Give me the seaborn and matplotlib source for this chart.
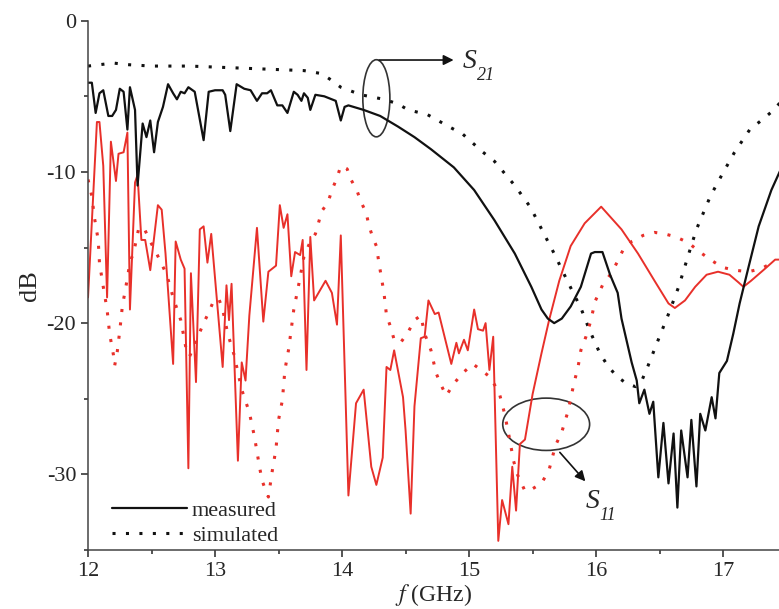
# S21 / S11 measured vs simulated

import seaborn as sns
import matplotlib.pyplot as plt
from matplotlib.patches import Ellipse
from matplotlib.ticker import MultipleLocator

# measured S21 (black solid)
s21_meas_f = [12.00, 12.03, 12.06, 12.09, 12.12, 12.16, 12.19, 12.22, 12.25, 12.28,
              12.31, 12.33, 12.37, 12.39, 12.43, 12.46, 12.49, 12.52, 12.55, 12.59,
              12.63, 12.67, 12.70, 12.73, 12.76, 12.79, 12.84, 12.91, 12.95, 13.00,
              13.06, 13.08, 13.12, 13.17, 13.23, 13.28, 13.33, 13.37, 13.41, 13.44,
              13.49, 13.53, 13.57, 13.62, 13.65, 13.68, 13.70, 13.73, 13.75, 13.79,
              13.86, 13.95, 13.99, 14.02, 14.05, 14.17, 14.30, 14.44, 14.57, 14.70,
              14.88, 15.04, 15.20, 15.36, 15.49, 15.57, 15.62, 15.67, 15.73, 15.80,
              15.88, 15.96, 15.99, 16.05, 16.11, 16.17, 16.20, 16.28, 16.32, 16.34,
              16.38, 16.42, 16.45, 16.49, 16.53, 16.57, 16.61, 16.64, 16.67, 16.72,
              16.75, 16.79, 16.82, 16.86, 16.91, 16.94, 16.97, 17.03, 17.08, 17.13,
              17.20, 17.28, 17.38, 17.45]
s21_meas = [-4.1, -4.1, -6.1, -4.8, -4.6, -6.3, -6.3, -5.9, -4.5, -4.7,
            -7.2, -4.4, -5.9, -10.9, -6.8, -7.7, -6.6, -8.7, -6.7, -5.7,
            -4.2, -4.8, -5.2, -4.7, -4.8, -4.4, -4.7, -7.9, -4.7, -4.6,
            -4.6, -4.9, -7.3, -4.2, -4.5, -4.6, -5.3, -4.8, -4.8, -4.6,
            -5.6, -5.6, -6.1, -4.7, -4.9, -5.3, -4.8, -5.1, -5.9, -4.9,
            -5.0, -5.3, -6.6, -5.7, -5.6, -5.9, -6.3, -7.0, -7.7, -8.5,
            -9.7, -11.2, -13.2, -15.4, -17.6, -19.1, -19.7, -20.0, -19.7, -18.9,
            -17.6, -15.4, -15.3, -15.3, -16.8, -18.0, -19.7, -22.6, -23.8, -25.3,
            -24.4, -26.0, -25.2, -30.2, -26.6, -30.6, -27.3, -32.2, -27.1, -30.2,
            -26.4, -30.8, -26.0, -27.1, -24.9, -26.3, -23.3, -22.5, -20.7, -18.7,
            -16.3, -13.6, -11.2, -9.9]

# simulated S21 (black dotted)
s21_sim_f = [12.00, 12.10, 12.20, 12.30, 12.50, 12.80, 13.10, 13.40, 13.70, 13.84,
             13.91, 13.99, 14.15, 14.33, 14.44, 14.52, 14.67, 14.84, 14.95, 15.11,
             15.20, 15.28, 15.36, 15.42, 15.48, 15.53, 15.59, 15.67, 15.75, 15.82,
             15.88, 15.95, 16.03, 16.09, 16.16, 16.24, 16.31, 16.36, 16.41, 16.48,
             16.57, 16.65, 16.73, 16.79, 16.90, 16.99, 17.09, 17.21, 17.30, 17.40,
             17.45]
s21_sim = [-3.0, -2.9, -2.8, -2.9, -3.0, -3.0, -3.1, -3.2, -3.3, -3.5,
           -3.9, -4.4, -4.9, -5.2, -5.5, -5.9, -6.2, -7.0, -7.5, -8.7,
           -9.3, -10.1, -10.9, -11.6, -12.3, -13.1, -14.1, -15.4, -16.8, -18.0,
           -19.0, -20.5, -22.0, -22.8, -23.5, -24.0, -24.2, -23.8, -22.8, -21.3,
           -19.4, -17.6, -15.4, -13.8, -11.6, -10.2, -8.7, -7.2, -6.6, -5.9,
           -5.4]

# measured S11 (red solid)
s11_meas_f = [12.00, 12.07, 12.09, 12.12, 12.15, 12.18, 12.22, 12.24, 12.28, 12.31,
              12.33, 12.37, 12.39, 12.42, 12.45, 12.49, 12.55, 12.58, 12.61, 12.67,
              12.69, 12.73, 12.76, 12.79, 12.81, 12.85, 12.88, 12.91, 12.94, 12.97,
              13.06, 13.09, 13.11, 13.13, 13.18, 13.21, 13.24, 13.27, 13.33, 13.38,
              13.42, 13.48, 13.51, 13.54, 13.57, 13.60, 13.63, 13.67, 13.69, 13.72,
              13.75, 13.78, 13.87, 13.92, 13.96, 13.99, 14.05, 14.11, 14.17, 14.23,
              14.27, 14.32, 14.35, 14.38, 14.41, 14.48, 14.50, 14.54, 14.57, 14.62,
              14.65, 14.68, 14.73, 14.76, 14.86, 14.90, 14.92, 14.96, 14.99, 15.04,
              15.07, 15.11, 15.13, 15.16, 15.19, 15.23, 15.26, 15.31, 15.34, 15.37,
              15.40, 15.44, 15.50, 15.57, 15.63, 15.71, 15.80, 15.91, 16.04, 16.20,
              16.33, 16.46, 16.57, 16.62, 16.70, 16.78, 16.87, 16.96, 17.05, 17.12,
              17.16, 17.22, 17.33, 17.41, 17.45]
s11_meas = [-18.3, -6.7, -6.7, -9.6, -18.3, -8.0, -10.6, -8.8, -8.7, -7.4,
            -19.1, -10.7, -10.2, -14.5, -14.5, -16.5, -12.2, -12.5, -15.4, -22.7,
            -14.6, -15.8, -16.4, -29.6, -16.7, -23.9, -13.8, -13.6, -16.0, -14.1,
            -22.9, -17.5, -19.8, -17.4, -29.1, -22.6, -23.8, -19.5, -13.7, -19.9,
            -16.6, -16.2, -12.2, -13.7, -12.8, -16.9, -15.3, -15.5, -14.5, -23.1,
            -14.3, -18.5, -17.2, -18.0, -20.1, -14.2, -31.4, -25.3, -24.4, -29.5,
            -30.7, -28.9, -22.9, -23.1, -21.8, -24.9, -27.1, -32.6, -25.5, -21.0,
            -20.9, -18.5, -19.4, -19.3, -22.7, -21.3, -22.0, -21.1, -21.8, -19.1,
            -20.4, -20.5, -20.0, -23.1, -20.9, -34.4, -31.7, -33.3, -29.5, -32.4,
            -28.0, -27.7, -24.7, -22.0, -19.8, -17.2, -14.9, -13.4, -12.3, -13.8,
            -15.4, -17.2, -18.7, -19.0, -18.5, -17.6, -16.8, -16.6, -16.8, -17.3,
            -17.6, -17.2, -16.4, -15.8, -15.8]

# simulated S11 (red dotted)
s11_sim_f = [12.00, 12.03, 12.05, 12.08, 12.09, 12.12, 12.15, 12.17, 12.20, 12.21,
             12.23, 12.25, 12.27, 12.30, 12.33, 12.36, 12.40, 12.44, 12.49, 12.54,
             12.62, 12.67, 12.73, 12.77, 12.80, 12.87, 12.91, 12.95, 12.99, 13.03,
             13.06, 13.10, 13.15, 13.21, 13.27, 13.31, 13.35, 13.37, 13.40, 13.42,
             13.45, 13.48, 13.50, 13.53, 13.55, 13.58, 13.62, 13.66, 13.70, 13.75,
             13.79, 13.84, 13.89, 13.92, 13.96, 13.99, 14.04, 14.07, 14.12, 14.15,
             14.19, 14.21, 14.24, 14.27, 14.29, 14.31, 14.33, 14.35, 14.38, 14.41,
             14.46, 14.52, 14.57, 14.62, 14.65, 14.70, 14.74, 14.78, 14.82, 14.88,
             14.95, 15.03, 15.11, 15.17, 15.24, 15.28, 15.32, 15.35, 15.38, 15.44,
             15.49, 15.57, 15.63, 15.68, 15.73, 15.78, 15.82, 15.86, 15.88, 15.92,
             15.96, 15.99, 16.05, 16.12, 16.17, 16.21, 16.28, 16.37, 16.46, 16.54,
             16.63, 16.73, 16.80, 16.90, 16.99, 17.09, 17.20, 17.30, 17.41]
s11_sim = [-10.5, -11.6, -13.0, -14.5, -16.0, -17.6, -19.1, -20.7, -22.1, -22.8,
           -21.9, -20.5, -18.9, -17.5, -16.0, -15.3, -13.7, -13.7, -14.6, -15.4,
           -16.8, -18.3, -19.8, -21.6, -22.2, -20.8, -20.0, -19.3, -18.5, -18.4,
           -19.1, -20.7, -22.1, -24.4, -25.9, -27.5, -29.5, -30.4, -31.1, -31.5,
           -29.8, -28.3, -26.4, -25.1, -23.1, -21.7, -19.1, -17.4, -15.6, -14.6,
           -14.1, -12.6, -12.0, -11.2, -10.4, -9.6, -9.8, -10.5, -11.3, -12.0,
           -12.7, -13.5, -14.3, -14.9, -16.0, -17.0, -18.0, -19.5, -20.2, -21.1,
           -21.3, -20.6, -19.8, -19.5, -20.7, -21.8, -23.3, -24.1, -24.8, -24.0,
           -23.3, -22.7, -23.2, -23.6, -24.7, -26.0, -27.7, -29.1, -30.0, -31.1,
           -31.0, -30.6, -29.7, -28.1, -27.2, -25.8, -24.2, -22.8, -21.8, -20.9,
           -19.8, -18.6, -17.5, -16.7, -15.9, -15.2, -14.6, -14.2, -14.0, -14.1,
           -14.3, -14.7, -15.2, -15.8, -16.3, -16.5, -16.6, -16.4, -15.9]

sns.set_style('ticks')
plt.rcParams['font.family'] = ['Liberation Serif', 'DejaVu Serif']
plt.rcParams['mathtext.fontset'] = 'stix'
plt.rcParams['axes.unicode_minus'] = False

fig = plt.figure(figsize=(7.79, 6.09), dpi=100)
ax = fig.add_axes([0.113, 0.097, 0.887, 0.869])

red = '#e8302a'
black = '#111111'
dots = (0, (1, 3.4))

sns.lineplot(x=s21_sim_f, y=s21_sim, color=black, lw=2.2, ls=dots, estimator=None, ax=ax)
sns.lineplot(x=s11_sim_f, y=s11_sim, color=red, lw=2.2, ls=dots, estimator=None, ax=ax)
sns.lineplot(x=s11_meas_f, y=s11_meas, color=red, lw=1.4, estimator=None, ax=ax)
sns.lineplot(x=s21_meas_f, y=s21_meas, color=black, lw=1.6, estimator=None, ax=ax)

# legend only for line styles
lines = ax.get_lines()
ax.legend([lines[3], lines[0]], ['measured', 'simulated'], loc='lower left',
          frameon=False, fontsize=16, handlelength=3.4, handletextpad=0.2,
          labelspacing=0.2, borderaxespad=0.2, bbox_to_anchor=(0.015, -0.017))


def s_label(x, y, sub):
    # italic S with italic subscript
    t = ax.text(x, y, 'S', fontsize=20, style='italic', va='center', ha='left')
    ax.annotate(sub, xy=(1.0, 0.3), xycoords=t, fontsize=13, style='italic',
                va='top', ha='left')


# annotations
ax.add_patch(Ellipse((14.27, -5.13), 0.213, 5.1, fill=False, ec='#333333', lw=1.2))
ax.annotate('', xy=(14.90, -2.6), xytext=(14.27, -2.6),
            arrowprops=dict(arrowstyle='-|>', color=black, lw=1.2, mutation_scale=15))
s_label(14.95, -2.7, '21')

ax.add_patch(Ellipse((15.607, -26.69), 0.684, 3.46, fill=False, ec='#333333', lw=1.2))
ax.annotate('', xy=(15.93, -30.6), xytext=(15.70, -28.41),
            arrowprops=dict(arrowstyle='-|>', color=black, lw=1.2, mutation_scale=15))
s_label(15.92, -31.8, '11')

ax.set_xlim(12, 17.44)
ax.set_ylim(-35, 0)
ax.xaxis.set_major_locator(MultipleLocator(1))
ax.xaxis.set_minor_locator(MultipleLocator(0.5))
ax.yaxis.set_major_locator(MultipleLocator(10))
ax.yaxis.set_minor_locator(MultipleLocator(5))
ax.tick_params(which='major', length=5, width=1.1, labelsize=16, direction='out')
ax.tick_params(which='minor', length=3, width=1.1, direction='out')
ax.set_xlabel('$f$ (GHz)', fontsize=17, labelpad=1)
ax.set_ylabel('dB', fontsize=19, labelpad=4)
for s in ['top', 'right']:
    ax.spines[s].set_visible(False)
for s in ['left', 'bottom']:
    ax.spines[s].set_linewidth(1.1)
    ax.spines[s].set_color('#444444')

fig.savefig('out.png', dpi=100)
